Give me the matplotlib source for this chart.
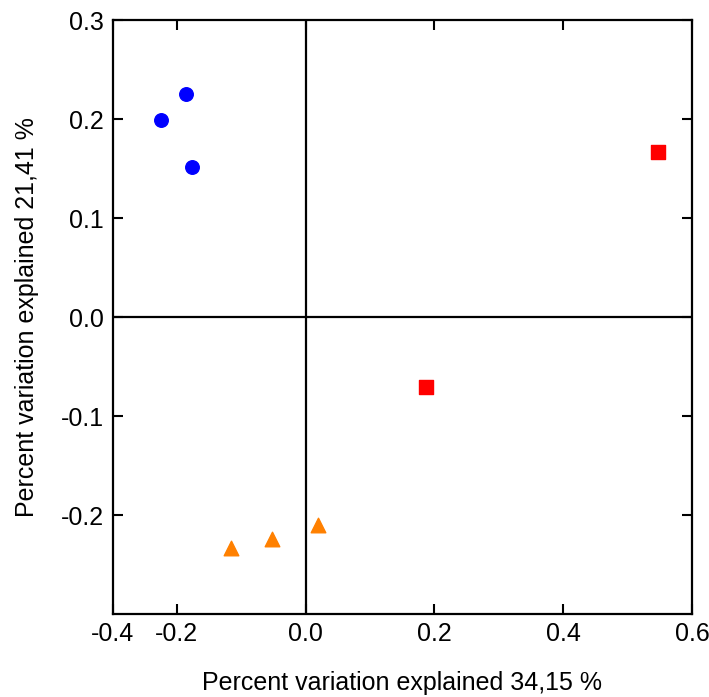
import matplotlib
matplotlib.use("Agg")
import matplotlib.pyplot as plt

# PCA scores, three groups
circle_x = [-0.186, -0.225, -0.176]
circle_y = [0.225, 0.199, 0.152]

square_x = [0.547, 0.187]
square_y = [0.167, -0.071]

triangle_x = [-0.116, -0.052, 0.019]
triangle_y = [-0.233, -0.224, -0.210]

x_ticks = [-0.3, -0.2, 0.0, 0.2, 0.4, 0.6]
x_ticklabels = ["-0.4", "-0.2", "0.0", "0.2", "0.4", "0.6"]
y_ticks = [-0.2, -0.1, 0.0, 0.1, 0.2, 0.3]
y_ticklabels = ["-0.2", "-0.1", "0.0", "0.1", "0.2", "0.3"]

plt.rcParams.update({
    "font.family": "Liberation Sans",
    "font.size": 18,
})

fig = plt.figure(figsize=(7.09, 6.97), dpi=100)
ax = fig.add_axes([0.1587, 0.119, 0.8173, 0.8523])

ax.axhline(0, color="black", lw=1.6, zorder=1)
ax.axvline(0, color="black", lw=1.6, zorder=1)

ax.scatter(circle_x, circle_y, marker="o", s=95, color="#0000ff", zorder=3)
ax.scatter(square_x, square_y, marker="s", s=90, color="#ff0000", zorder=3)
ax.scatter(triangle_x, triangle_y, marker="^", s=110, color="#ff8000", zorder=3)

ax.set_xlim(-0.3, 0.6)
ax.set_ylim(-0.3, 0.3)
ax.set_xticks(x_ticks)
ax.set_xticklabels(x_ticklabels)
ax.set_yticks(y_ticks)
ax.set_yticklabels(y_ticklabels)

ax.tick_params(direction="in", length=7, width=1.5, top=True, right=True,
               labelsize=18, pad=6)
for sp in ax.spines.values():
    sp.set_linewidth(1.6)

ax.set_xlabel("Percent variation explained 34,15 %", fontsize=18, labelpad=18)
ax.set_ylabel("Percent variation explained 21,41 %", fontsize=18, labelpad=16)

fig.savefig("out.png", dpi=100, facecolor="white")
plt.close(fig)
